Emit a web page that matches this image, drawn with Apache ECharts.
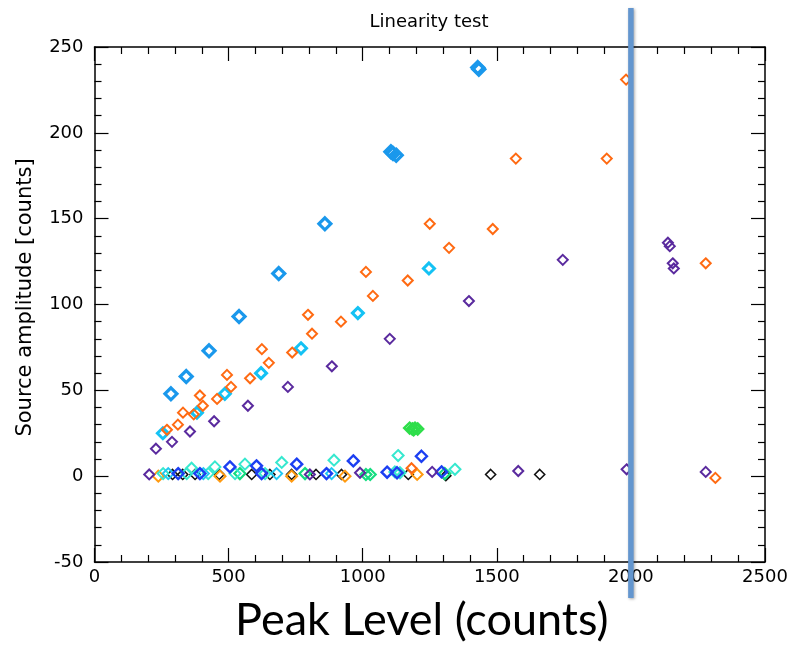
<!DOCTYPE html>
<html><head><meta charset="utf-8">
<script src="https://cdn.jsdelivr.net/npm/echarts@6/dist/echarts.min.js"></script>
<style>html,body{margin:0;padding:0;background:#fff}#c{width:802px;height:648px}</style>
</head><body><div id="c"></div>
<script>
const xTicks = [0, 500, 1000, 1500, 2000, 2500];
const yTicks = [-50, 0, 50, 100, 150, 200, 250];
const thresholdX = 2000;

const blueData = [[285,48],[342,58],[427,73],[539,93],[687,118],[859,147],[1105,189],[1113,188],[1125,187],[1429,238],[1433,237]];
const orangeData = [[270,27],[311,30],[330,37],[370,36],[393,47],[404,41],[457,45],[494,59],[509,52],[580,57],[624,74],[650,66],[737,72],[796,94],[811,83],[919,90],[1012,119],[1038,105],[1168,114],[1250,147],[1322,133],[1485,144],[1571,185],[1910,185],[1982,231],[2279,124],[2315,-1],[1182,4.6]];
const cyanData = [[255,25],[382,37],[486,48],[621,60],[770,74.5],[982,95],[1247,121]];
const purpleData = [[229,16],[289,20],[356,26],[446,32],[572,41],[721,52],[885,64],[1101,80],[1396,102],[1746,126],[2138,136],[2145,134],[2156,124],[2160,121],[1984,4],[2279,2.5],[1580,3],[1259,2.5],[204,1],[803,1],[990,2]];
const greenData = [[1175,28],[1185,27.5],[1195,28],[1205,27.5],[1190,27]];
const turquoiseData = [[256,1.5],[344,1.5],[362,4.6],[424,1.5],[449,5.4],[524,1.5],[561,7],[636,1.5],[698,8],[893,9.3],[1132,12],[1120,2.5],[1139,2],[1344,4]];
const skyData = [[275,1.5],[406,1.5],[679,1.5],[884,1.5]];
const royalData = [[312,1.5],[393,1.5],[505,5.4],[604,6],[623,1.5],[754,7],[865,1.5],[965,8.9],[1091,2.3],[1128,2],[1219,11.6],[1294,2.5]];
const blackData = [[291,1],[329,1],[375,1],[465,1],[586,1],[654,1],[735,1],[826,1],[921,1],[1170,1],[1310,0.3],[1477,1],[1660,1]];
const amberData = [[238,0],[468,0],[735,0],[934,0],[1203,1]];
const springData = [[542,1.5],[785,1.5],[1012,1],[1028,1],[1306,1.5]];

function sc(name, data, color, size, lw) {
  return { name, type: 'scatter', data, symbol: 'diamond', symbolSize: size,
    itemStyle: { color: 'rgba(255,255,255,0)', borderColor: color, borderWidth: lw, opacity: 1 },
    emphasis: { disabled: true }, animation: false };
}

const chart = echarts.init(document.getElementById('c'), null, { renderer: 'canvas' });
const font = 'DejaVu Sans, Liberation Sans, sans-serif';
const axisCommon = {
  axisLine: { show: true, onZero: false, lineStyle: { color: '#000', width: 1.5 } },
  axisTick: { show: true, inside: true, length: 14, lineStyle: { color: '#000', width: 1.2 } },
  minorTick: { show: true, splitNumber: 5, length: 7, lineStyle: { color: '#000', width: 1.2 } },
  splitLine: { show: false }
};
chart.setOption({
  animation: false,
  title: { text: 'Linearity test', left: 424, top: 8, textAlign: 'center',
    textStyle: { fontFamily: font, fontSize: 18, fontWeight: 'normal', color: '#000' } },
  grid: { left: 94.5, right: 37, top: 47, bottom: 86, containLabel: false },
  xAxis: [
    Object.assign({ type: 'value', min: xTicks[0], max: xTicks[xTicks.length-1], interval: 500, position: 'bottom',
      axisLabel: { fontFamily: font, fontSize: 18, color: '#000', margin: 6, formatter: v => String(v) },
      name: 'Peak Level (counts)', nameLocation: 'middle', nameGap: 36,
      nameTextStyle: { fontFamily: 'Lato, Open Sans, sans-serif', fontSize: 45, color: '#000', padding: [0, 16, 0, 0] } }, axisCommon),
    Object.assign({ type: 'value', min: xTicks[0], max: xTicks[xTicks.length-1], interval: 500, position: 'top',
      axisLabel: { show: false } }, axisCommon)
  ],
  yAxis: [
    Object.assign({ type: 'value', min: yTicks[0], max: yTicks[yTicks.length-1], interval: 50, position: 'left',
      axisLabel: { fontFamily: font, fontSize: 18, color: '#000', margin: 11, formatter: v => String(v) },
      name: 'Source amplitude [counts]', nameLocation: 'middle', nameGap: 58, nameRotate: 90,
      nameTextStyle: { fontFamily: font, fontSize: 21, color: '#000', padding: [0, 0, 0, 14] } }, axisCommon),
    Object.assign({ type: 'value', min: yTicks[0], max: yTicks[yTicks.length-1], interval: 50, position: 'right',
      axisLabel: { show: false } }, axisCommon)
  ],
  series: [
    sc('black', blackData, '#111111', 10, 1.6),
    sc('amber', amberData, '#ff9a10', 11, 2),
    sc('spring', springData, '#14dd80', 11, 2.2),
    sc('turquoise', turquoiseData, '#36e8cf', 11, 2),
    sc('sky', skyData, '#22c8f2', 11, 2),
    sc('royal', royalData, '#1c3ff2', 11, 2.4),
    sc('purple', purpleData, '#5a2a9e', 10, 2),
    sc('green', greenData, '#2ede4a', 11, 2.4),
    sc('cyan', cyanData, '#14c2f4', 11, 3),
    sc('orange', orangeData, '#ff6a12', 10, 2),
    sc('blue', blueData, '#1a98ec', 12, 3.2)
  ]
});
const px = chart.convertToPixel({ xAxisIndex: 0 }, thresholdX);
chart.setOption({ graphic: [{ type: 'line', shape: { x1: px, y1: 8, x2: px, y2: 598 },
  style: { stroke: '#6396cf', lineWidth: 5.5, shadowBlur: 3, shadowColor: 'rgba(0,0,0,0.35)', shadowOffsetX: 1, shadowOffsetY: 1 }, z: 100 }] });
</script></body></html>
